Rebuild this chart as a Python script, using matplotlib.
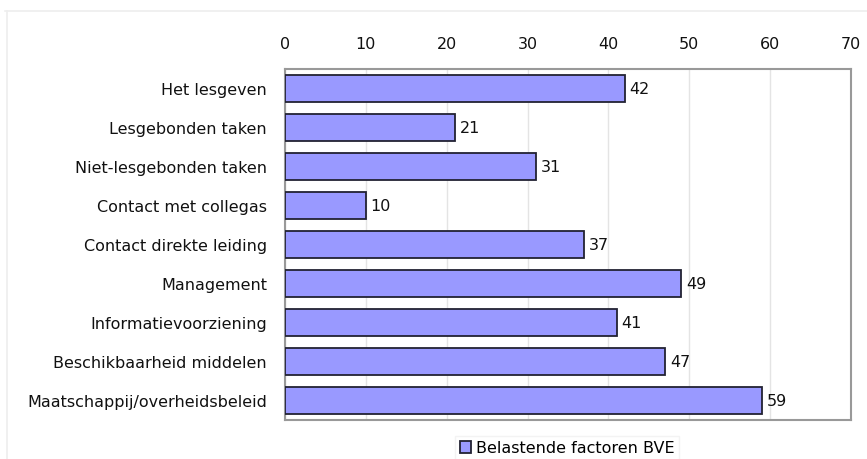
import matplotlib
matplotlib.use("Agg")
import matplotlib.pyplot as plt
from matplotlib.lines import Line2D

categories = [
    "Het lesgeven",
    "Lesgebonden taken",
    "Niet-lesgebonden taken",
    "Contact met collegas",
    "Contact direkte leiding",
    "Management",
    "Informatievoorziening",
    "Beschikbaarheid middelen",
    "Maatschappij/overheidsbeleid",
]
values = [42, 21, 31, 10, 37, 49, 41, 47, 59]
xticks = [0, 10, 20, 30, 40, 50, 60, 70]
series_name = "Belastende factoren BVE"

plt.rcParams["font.family"] = ["DejaVu Sans"]
FS = 11.5

W, H = 867, 460
fig = plt.figure(figsize=(W / 100, H / 100), dpi=100)
fig.patch.set_facecolor("white")

# plot area in pixel coordinates
left, right, top, bottom = 285, 851, 70, 421
ax = fig.add_axes([left / W, 1 - bottom / H, (right - left) / W, (bottom - top) / H])

y = list(range(len(categories)))
bars = ax.barh(y, values, height=0.69, color="#9999ff", edgecolor="#222233",
               linewidth=1.3, zorder=3, label=series_name)
ax.set_ylim(len(categories) - 0.5, -0.5)
ax.set_xlim(0, 70)
ax.set_xticks(xticks)
ax.xaxis.tick_top()
ax.tick_params(axis="x", length=0, pad=13, labelsize=FS, labelcolor="#111111")
ax.tick_params(axis="y", length=0, pad=13, labelsize=FS, labelcolor="#111111")
ax.set_yticks(y)
ax.set_yticklabels(categories)
ax.grid(axis="x", color="#e4e4e4", linewidth=1, zorder=0)
for s in ax.spines.values():
    s.set_color("#999999")
    s.set_linewidth(1.5)

for yi, v in zip(y, values):
    ax.text(v + 0.6, yi, str(v), va="center", ha="left", fontsize=FS, color="#111111")

leg = fig.legend(handles=[bars], labels=[series_name], loc="center",
                 bbox_to_anchor=(567 / W, 1 - 449 / H), frameon=True,
                 fontsize=FS, handlelength=0.7, handleheight=0.7,
                 handletextpad=0.3, borderpad=0.3, fancybox=False)
leg.get_frame().set_edgecolor("#f0f0f0")
leg.get_frame().set_linewidth(1)

# faint outer frame lines of the chart area
fig.add_artist(Line2D([5 / W, 1], [1 - 12 / H, 1 - 12 / H], color="#eeeeee", linewidth=1.2))
fig.add_artist(Line2D([7 / W, 7 / W], [0, 1 - 12 / H], color="#eeeeee", linewidth=1.2))

fig.savefig("out.png", dpi=100)
